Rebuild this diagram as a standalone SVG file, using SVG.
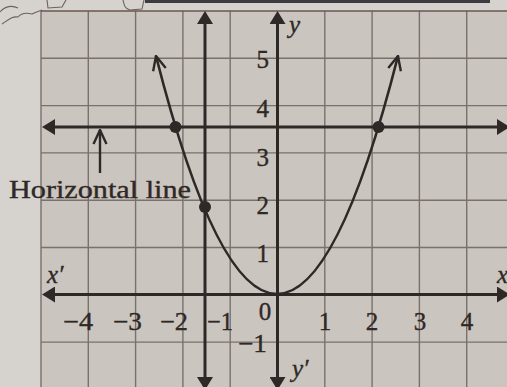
<svg xmlns="http://www.w3.org/2000/svg" width="507" height="387" viewBox="0 0 507 387">
<style>
.grid{stroke:#7a716c;stroke-width:1.4;fill:none}
.main{stroke:#2e2826;stroke-width:3;fill:none}
.curve{stroke:#2e2826;stroke-width:2.6;fill:none}
.t{font-family:"Liberation Serif","Times New Roman",serif;font-size:25px;fill:#2f2826;stroke:#2f2826;stroke-width:0.35}
.it{font-style:italic}
.sc{stroke:#6a625e;stroke-width:1.1;fill:none}
</style>
<defs>
<marker id="tri" viewBox="0 0 13 16" refX="6" refY="8" markerWidth="13" markerHeight="16" orient="auto-start-reverse" markerUnits="userSpaceOnUse">
<path d="M0,0 L13,8 L0,16 Z" fill="#2e2826"/>
</marker>
<marker id="chev" viewBox="0 0 16 16" refX="15" refY="8" markerWidth="16" markerHeight="16" orient="auto-start-reverse" markerUnits="userSpaceOnUse">
<path d="M1,1.5 L15,8 L1,14.5" fill="none" stroke="#2e2826" stroke-width="2.4" stroke-linejoin="miter"/>
</marker>
</defs>
<rect width="507" height="387" fill="#d6d2cd"/>
<g id="header">
<rect x="145" y="0" width="345" height="3" fill="#3d3a40"/>
<path class="sc" d="M0,12 C5,6 12,5 18,8"/>
<path class="sc" d="M2,24 C8,20 12,16 18,17 C22,12 28,13 32,14 C36,12 40,11 42,10"/>
<path class="sc" d="M47,0 L48,8 L62,7 L66,0"/>
<path class="sc" d="M123,0 C124,5 125,9 130,10 L142,9 L144,0"/>
</g>
<g id="grid">
<rect x="41" y="11" width="466" height="376" fill="#cac5bf"/>
<path class="grid" d="M41,11V387 M88.3,11V387 M135.6,11V387 M182.9,11V387 M230.2,11V387 M324.8,11V387 M372.1,11V387 M419.4,11V387 M466.7,11V387 M41,58.3H507 M41,105.6H507 M41,152.9H507 M41,200.2H507 M41,247.5H507 M41,342.1H507"/>
<path d="M41,11H507" stroke="#6b5550" stroke-width="1.6"/>
</g>
<g id="connectors">
<line id="x-axis" class="main" x1="49" y1="294.5" x2="503" y2="294.5" marker-start="url(#tri)" marker-end="url(#tri)"/>
<line id="y-axis" class="main" x1="277.5" y1="18" x2="277.5" y2="383" marker-start="url(#tri)" marker-end="url(#tri)"/>
<line id="vertical-line" class="main" x1="205" y1="18" x2="205" y2="383" marker-start="url(#tri)" marker-end="url(#tri)"/>
<line id="horizontal-line" class="main" x1="49" y1="127" x2="503" y2="127" marker-start="url(#tri)" marker-end="url(#tri)"/>
<path id="parabola" class="curve" d="M156,56 Q277,532 398,56" marker-start="url(#chev)" marker-end="url(#chev)"/>
<line id="label-arrow" stroke="#2e2826" stroke-width="2.4" x1="100" y1="173" x2="100" y2="130" marker-end="url(#chev)"/>
</g>
<g id="points" fill="#2e2826">
<circle cx="175.5" cy="127" r="6"/>
<circle cx="378.5" cy="127" r="6"/>
<circle cx="205" cy="207" r="6"/>
</g>
<g id="labels" class="t">
<text x="9" y="198" textLength="182" lengthAdjust="spacingAndGlyphs">Horizontal line</text>
<text x="63" y="330" textLength="30" lengthAdjust="spacingAndGlyphs">−4</text>
<text x="113" y="330" textLength="29" lengthAdjust="spacingAndGlyphs">−3</text>
<text x="160" y="330" textLength="28" lengthAdjust="spacingAndGlyphs">−2</text>
<text x="207" y="330" textLength="26" lengthAdjust="spacingAndGlyphs">−1</text>
<text x="265" y="320" text-anchor="middle">0</text>
<text x="325" y="330" text-anchor="middle">1</text>
<text x="372" y="330" text-anchor="middle">2</text>
<text x="420" y="330" text-anchor="middle">3</text>
<text x="467" y="330" text-anchor="middle">4</text>
<text x="238" y="352" textLength="29" lengthAdjust="spacingAndGlyphs">−1</text>
<text x="269" y="68" text-anchor="end">5</text>
<text x="269" y="117" text-anchor="end">4</text>
<text x="269" y="166" text-anchor="end">3</text>
<text x="269" y="214" text-anchor="end">2</text>
<text x="269" y="262" text-anchor="end">1</text>
<text class="it" x="289" y="33">y</text>
<text class="it" x="292" y="377">y′</text>
<text class="it" x="47" y="283">x′</text>
<text class="it" x="497" y="283">x</text>
</g>
</svg>
